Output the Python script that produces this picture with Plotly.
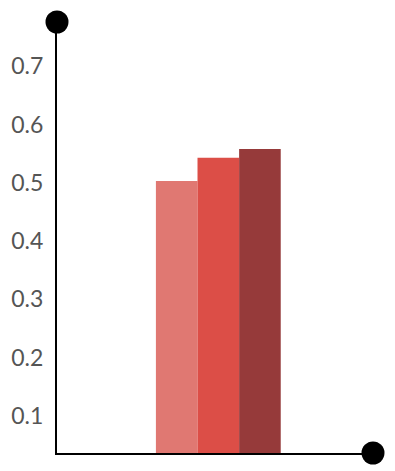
import plotly.graph_objects as go

categories = [0]
series_names = ["A", "B", "C"]
series_values = [[0.503], [0.543], [0.558]]
colors = ["#E07872", "#DC4E47", "#963A3A"]
tick_vals = [0.1, 0.2, 0.3, 0.4, 0.5, 0.6, 0.7]
tick_text = ["0.1", "0.2", "0.3", "0.4", "0.5", "0.6", "0.7"]

fig = go.Figure()
for name, vals, c in zip(series_names, series_values, colors):
    fig.add_trace(go.Bar(x=categories, y=vals, name=name, marker=dict(color=c, line=dict(width=0))))

r = 11.5
fig.update_layout(
    width=395, height=471,
    margin=dict(l=57, r=22, t=22, b=18),
    paper_bgcolor="white", plot_bgcolor="white",
    showlegend=False,
    barmode="group", bargap=0.605, bargroupgap=0,
    font=dict(family="Lato", size=23, color="#555555"),
    xaxis=dict(type="linear", range=[-0.5105, 0.4895], showgrid=False, zeroline=False,
               showticklabels=False, showline=True, linecolor="black", linewidth=2),
    yaxis=dict(range=[0.0365, 0.776], showgrid=False, zeroline=False,
               tickvals=tick_vals, ticktext=tick_text, ticks="", ticklabelstandoff=7,
               tickfont=dict(family="Lato", size=23, color="#555555"),
               showline=True, linecolor="black", linewidth=2),
    shapes=[
        dict(type="circle", xref="paper", yref="paper", xsizemode="pixel", ysizemode="pixel",
             xanchor=0, yanchor=1, x0=-r, x1=r, y0=-r, y1=r,
             fillcolor="black", line=dict(width=0), layer="above"),
        dict(type="circle", xref="paper", yref="paper", xsizemode="pixel", ysizemode="pixel",
             xanchor=1, yanchor=0, x0=-r, x1=r, y0=-r, y1=r,
             fillcolor="black", line=dict(width=0), layer="above"),
    ],
)
fig.write_html("out.html")
